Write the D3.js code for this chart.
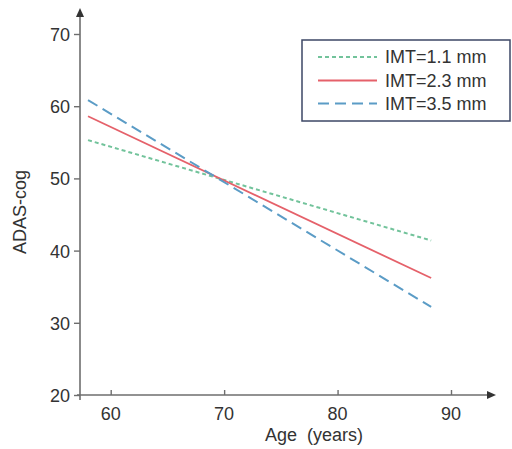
<!DOCTYPE html>
<html>
<head>
<meta charset="utf-8">
<script src="https://cdn.jsdelivr.net/npm/d3@7"></script>
<style>
  body { margin: 0; background: #fff; }
  text { font-family: "Liberation Sans", Arial, sans-serif; fill: #333; }
</style>
</head>
<body>
<div id="graph"></div>
<script>
// Donnees
const ages = [58.0, 88.25];
const imt11 = [55.3, 41.4];
const imt23 = [58.6, 36.2];
const imt35 = [60.85, 32.2];
const seriesNames = ["IMT=1.1 mm", "IMT=2.3 mm", "IMT=3.5 mm"];
const xTicks = [60, 70, 80, 90];
const yTicks = [20, 30, 40, 50, 60, 70];

const width = 512, height = 449;
const fs = "18px";

const x = d3.scaleLinear().domain([60, 90]).range([110.7, 451]);
const y = d3.scaleLinear().domain([20, 70]).range([395, 34]);

const svg = d3.select("#graph").append("svg")
    .attr("width", width)
    .attr("height", height);

const axisColor = "#6e6e6e";

// Axe Y
svg.append("line")
    .attr("x1", 80).attr("x2", 80)
    .attr("y1", 400).attr("y2", 14)
    .attr("stroke", axisColor).attr("stroke-width", 1.6);
svg.append("path")
    .attr("d", "M80,8 L76,17 L84,17 Z")
    .attr("fill", "#333");

const yAxis = svg.append("g").attr("transform", "translate(80,0)")
    .call(d3.axisLeft(y).tickValues(yTicks).tickSize(6).tickPadding(4));
yAxis.select(".domain").remove();
yAxis.selectAll("line").attr("stroke", axisColor).attr("stroke-width", 1.4);
yAxis.selectAll("text").style("font-size", fs).attr("fill", "#333").attr("dy", "0.36em");

// Axe X
svg.append("line")
    .attr("x1", 77).attr("x2", 490)
    .attr("y1", 395).attr("y2", 395)
    .attr("stroke", axisColor).attr("stroke-width", 1.6);
svg.append("path")
    .attr("d", "M496,395 L487,391 L487,399 Z")
    .attr("fill", "#333");

const xAxis = svg.append("g").attr("transform", "translate(0,395)")
    .call(d3.axisTop(x).tickValues(xTicks).tickSize(5).tickFormat(""));
xAxis.select(".domain").remove();
xAxis.selectAll("line").attr("stroke", axisColor).attr("stroke-width", 1.4);

svg.selectAll(".xlab")
    .data(xTicks)
    .enter().append("text")
    .attr("class", "xlab")
    .attr("x", d => x(d))
    .attr("y", 420)
    .attr("text-anchor", "middle")
    .style("font-size", fs)
    .text(d => d);

svg.append("text")
    .attr("x", 314).attr("y", 441)
    .attr("text-anchor", "middle")
    .style("font-size", fs)
    .style("white-space", "pre")
    .text("Age  (years)");

svg.append("text")
    .attr("transform", "translate(26,212) rotate(-90)")
    .attr("text-anchor", "middle")
    .style("font-size", fs)
    .text("ADAS-cog");

// Lignes
const series = [
    {name: seriesNames[0], values: imt11, color: "#72c39b", dash: "4,3", w: 2},
    {name: seriesNames[1], values: imt23, color: "#e5616a", dash: null, w: 1.8},
    {name: seriesNames[2], values: imt35, color: "#5b9cc6", dash: "11,6", w: 2}
];

const line = d3.line()
    .x((d, i) => x(ages[i]))
    .y(d => y(d));

svg.selectAll(".serie")
    .data(series)
    .enter().append("path")
    .attr("class", "serie")
    .attr("d", d => line(d.values))
    .attr("fill", "none")
    .attr("stroke", d => d.color)
    .attr("stroke-width", d => d.w)
    .attr("stroke-dasharray", d => d.dash);

// Legende
svg.append("rect")
    .attr("x", 302).attr("y", 40)
    .attr("width", 208).attr("height", 81)
    .attr("fill", "#fff")
    .attr("stroke", "#3d4766")
    .attr("stroke-width", 1.5);

const leg = svg.selectAll(".leg")
    .data(series)
    .enter().append("g")
    .attr("class", "leg")
    .attr("transform", (d, i) => "translate(0," + [57, 80.5, 103.5][i] + ")");

leg.append("line")
    .attr("x1", 318).attr("x2", 377)
    .attr("y1", 0).attr("y2", 0)
    .attr("stroke", d => d.color)
    .attr("stroke-width", d => d.w)
    .attr("stroke-dasharray", d => d.dash);

leg.append("text")
    .attr("x", 385).attr("y", 6)
    .style("font-size", fs)
    .text(d => d.name);
</script>
</body>
</html>
